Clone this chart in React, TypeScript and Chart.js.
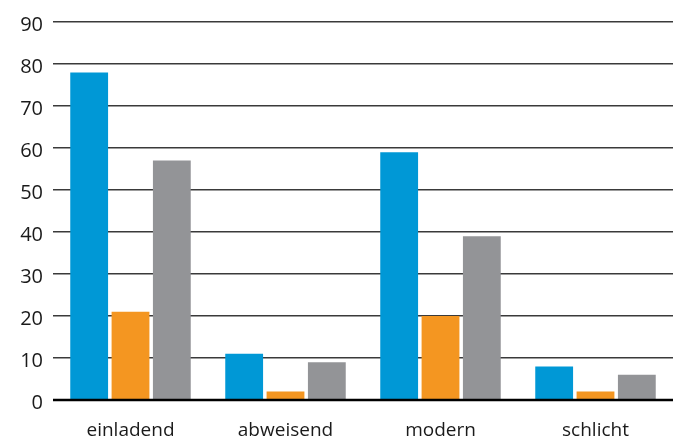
import React, { useEffect, useRef } from "react";
import { Chart, registerables } from "chart.js";

Chart.register(...registerables);

const categories = ["einladend", "abweisend", "modern", "schlicht"];
const seriesBlue = [78, 11, 59, 8];
const seriesOrange = [21, 2, 20, 2];
const seriesGray = [57, 9, 39, 6];
const yTicks = [0, 10, 20, 30, 40, 50, 60, 70, 80, 90];

const FONT = "'Open Sans', 'Noto Sans', sans-serif";

export default function App() {
  const canvasRef = useRef<HTMLCanvasElement | null>(null);

  useEffect(() => {
    document.body.style.margin = "0";
    const canvas = canvasRef.current;
    if (!canvas) return;

    // Thick black baseline along y = 0
    const baseline = {
      id: "baseline",
      afterDatasetsDraw(chart: any) {
        const { ctx, chartArea, scales } = chart;
        const y = scales.y.getPixelForValue(0);
        ctx.save();
        ctx.strokeStyle = "#000";
        ctx.lineWidth = 2.5;
        ctx.beginPath();
        ctx.moveTo(chartArea.left, y);
        ctx.lineTo(chartArea.right, y);
        ctx.stroke();
        ctx.restore();
      },
    };

    const chart = new Chart(canvas, {
      type: "bar",
      data: {
        labels: categories,
        datasets: [
          { data: seriesBlue, backgroundColor: "#0098D6" },
          { data: seriesOrange, backgroundColor: "#F49621" },
          { data: seriesGray, backgroundColor: "#939497" },
        ],
      },
      options: {
        animation: false,
        responsive: false,
        maintainAspectRatio: false,
        layout: { padding: { top: 17, right: 0, left: 0, bottom: 0 } },
        plugins: {
          legend: { display: false },
          tooltip: { enabled: false },
        },
        datasets: {
          bar: { categoryPercentage: 0.8, barPercentage: 0.915 },
        },
        scales: {
          x: {
            grid: { display: false, drawTicks: false },
            border: { display: false },
            ticks: {
              color: "#1a1a1a",
              font: { family: FONT, size: 19 },
              padding: 19,
            },
            afterFit(scale: any) {
              scale.height = 39;
            },
          },
          y: {
            min: 0,
            max: 90,
            afterBuildTicks(scale: any) {
              scale.ticks = yTicks.map((v) => ({ value: v }));
            },
            grid: { color: "#3a3a3a", lineWidth: 1.5, drawTicks: false },
            border: { display: false },
            ticks: {
              color: "#1a1a1a",
              font: { family: FONT, size: 20 },
              padding: 10,
              labelOffset: 3,
            },
            afterFit(scale: any) {
              scale.width = 53;
            },
          },
        },
      },
      plugins: [baseline],
    });

    return () => chart.destroy();
  }, []);

  return (
    <div style={{ width: 673, height: 439 }}>
      <canvas ref={canvasRef} width={673} height={439} style={{ display: "block" }} />
    </div>
  );
}
